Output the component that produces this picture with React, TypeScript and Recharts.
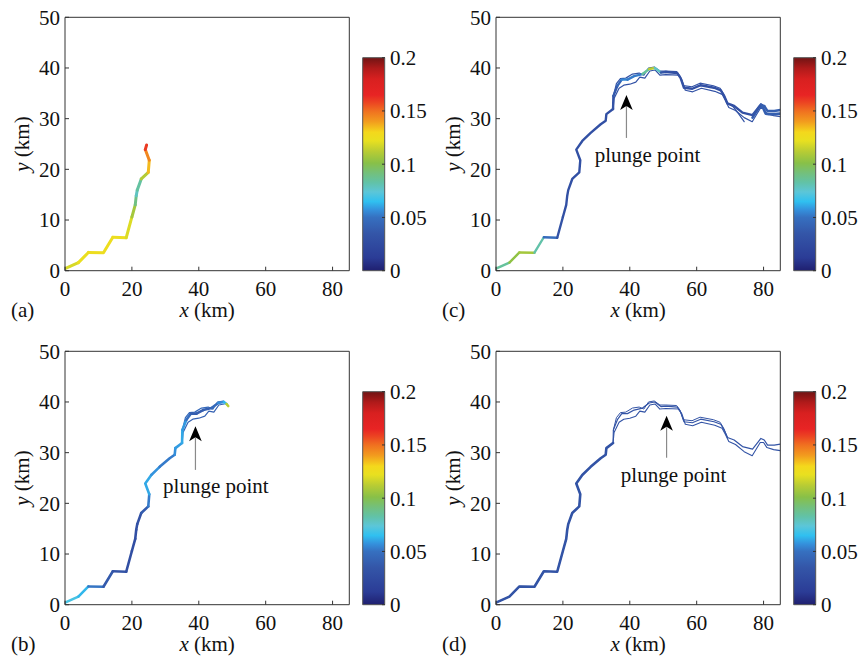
import React from 'react';
import { LineChart, Line, XAxis, YAxis, ReferenceLine, ReferenceDot, BarChart, Bar } from 'recharts';

// ---------- tick labels ----------
const X_TICKS = [0, 20, 40, 60, 80];
const Y_TICKS = [0, 10, 20, 30, 40, 50];
const CB_TICKS = [0, 0.05, 0.1, 0.15, 0.2];
const CB_LABELS = ['0', '0.05', '0.1', '0.15', '0.2'];
const PANEL_LETTERS = ['a', 'b', 'c', 'd'];

// ---------- trajectory data (km) ----------
const MAIN_X = [0, 4.0, 7.0, 11.5, 14.3, 18.3, 20.0, 21.0, 21.3, 21.6, 22.8, 24.9, 25.2, 24.0, 25.8, 28.3, 31.3, 32.8, 33.0, 35.0, 35.1, 36.3, 37.6, 39.3, 41.3, 43.8, 45.8, 47.5, 49.3, 50.8, 54.2, 55.2, 56.2, 58.7, 61.2, 65.2, 67.2, 68.2, 69.2, 71.2, 73.7, 76.7, 79.2, 80.2, 81.2, 83.2, 85.0];
const MAIN_Y = [0.4, 1.6, 3.6, 3.55, 6.6, 6.5, 10.6, 13.0, 14.8, 15.9, 18.1, 19.4, 21.8, 23.9, 25.6, 27.2, 28.9, 29.6, 30.9, 31.9, 34.5, 36.5, 37.7, 37.7, 38.4, 38.8, 39.8, 40.0, 39.1, 39.2, 39.0, 38.0, 36.1, 35.9, 36.6, 36.1, 35.6, 34.5, 33.0, 32.5, 31.2, 30.7, 32.8, 32.5, 31.5, 31.5, 31.7];

const LOW_X = [35.0, 35.3, 36.8, 38.2, 40.0, 41.8, 43.0, 44.5, 46.0, 47.6, 49.0, 50.8, 54.6, 55.6, 56.6, 58.8, 61.4, 65.4, 67.6, 68.6, 69.6, 71.6, 74.2, 76.6, 79.0, 80.0, 81.0, 83.0, 85.0];
const LOW_Y = [31.9, 34.0, 36.0, 36.6, 36.8, 37.2, 38.2, 38.0, 39.4, 39.6, 38.6, 38.7, 38.6, 37.6, 35.6, 35.3, 36.0, 35.4, 34.8, 33.6, 32.2, 31.6, 30.2, 29.4, 32.0, 32.0, 31.0, 30.6, 30.4];

const UP_X = [35.1, 36.0, 37.2, 38.8, 40.8, 42.8, 44.2, 45.6, 47.3, 49.0, 50.8, 54.0, 55.0, 56.0, 58.6, 61.0, 65.0, 67.0, 68.0, 69.2];
const UP_Y = [34.5, 36.9, 37.9, 38.0, 38.8, 39.0, 38.6, 40.0, 40.2, 39.4, 39.4, 39.3, 38.4, 36.5, 36.3, 37.0, 36.5, 36.0, 34.9, 33.0];

const DANGLE_X = [69.2, 70.8, 72.5, 74.2];
const DANGLE_Y = [33.0, 32.4, 31.0, 29.4];

const BAND_X = [76.7, 78.8, 79.8, 80.6, 81.6, 83.4, 85.0];
const BAND_Y = [30.2, 32.4, 32.2, 31.0, 30.9, 30.9, 31.0];

const A_TIP_X = [24.4];
const A_TIP_Y = [24.8];
const B_TIP_X = [48.3, 48.8];
const B_TIP_Y = [39.6, 39.2];

// ---------- colour values along the paths ----------
const VAL_A = [0.115, 0.122, 0.125, 0.125, 0.125, 0.124, 0.115, 0.1, 0.08, 0.076, 0.092, 0.13, 0.14, 0.15, 0.17];
const VAL_B = [0.075, 0.065, 0.062, 0.04, 0.035, 0.03, 0.028, 0.028, 0.03, 0.03, 0.032, 0.045, 0.06, 0.062, 0.06, 0.055, 0.05, 0.055, 0.058, 0.06, 0.062, 0.055, 0.042, 0.038, 0.04, 0.042, 0.05, 0.062, 0.065, 0.16];
const VAL_C = [0.075, 0.095, 0.11, 0.105, 0.06, 0.035, 0.03, 0.03, 0.03, 0.03, 0.03, 0.03, 0.03, 0.03, 0.03, 0.03, 0.03, 0.03, 0.03, 0.03, 0.035, 0.04, 0.05, 0.06, 0.045, 0.06, 0.11, 0.115, 0.04, 0.03, 0.03, 0.03, 0.03, 0.03, 0.03, 0.03, 0.03, 0.03, 0.03, 0.03, 0.03, 0.03, 0.038, 0.04, 0.04, 0.04, 0.04];
const VAL_B_LOW = 0.042;
const VAL_B_UP = 0.046;
const VAL_C_VAR = 0.032;
const VAL_C_BAND = 0.04;
const VAL_D = 0.033;

// ---------- plunge-point annotations (km) ----------
const ARROWS = {
  b: { x: 39.0, y0: 26.6, y1: 33.0, tip: 35.2, tx: 45.1, ty: 22.0 },
  c: { x: 39.0, y0: 26.2, y1: 32.5, tip: 34.65, tx: 45.3, ty: 21.4 },
  d: { x: 51.0, y0: 29.0, y1: 35.0, tip: 37.3, tx: 53.1, ty: 24.3 },
};

// ---------- styling ----------
const FONT = 'Liberation Serif, DejaVu Serif, serif';
const TXT = '#111';
const AX = '#333';
const FS = 21;

const JET_STOPS: [number, string][] = [
  [0, '#1f1f6f'], [0.012, '#2b3c96'], [0.035, '#3456a8'], [0.05, '#3670c0'], [0.057, '#3490dc'],
  [0.065, '#30c0f0'], [0.074, '#5cc6d8'], [0.083, '#62c2a6'], [0.092, '#74c07a'], [0.101, '#88c048'],
  [0.112, '#b8cc34'], [0.122, '#e8e020'], [0.13, '#f4d81c'], [0.14, '#f29c1e'], [0.15, '#f07020'],
  [0.158, '#ec4422'], [0.165, '#e82424'], [0.18, '#d82020'], [0.19, '#b01a1a'], [0.2, '#701414'],
];

function hexToRgb(h: string) {
  return [parseInt(h.slice(1, 3), 16), parseInt(h.slice(3, 5), 16), parseInt(h.slice(5, 7), 16)];
}
function jet(v: number): string {
  const c = Math.max(0, Math.min(0.2, v));
  for (let i = 0; i < JET_STOPS.length - 1; i++) {
    const [a, ca] = JET_STOPS[i];
    const [b, cb] = JET_STOPS[i + 1];
    if (c >= a && c <= b) {
      const t = b === a ? 0 : (c - a) / (b - a);
      const A = hexToRgb(ca);
      const B = hexToRgb(cb);
      const r = A.map((x, k) => Math.round(x + (B[k] - x) * t));
      return `rgb(${r[0]},${r[1]},${r[2]})`;
    }
  }
  return JET_STOPS[JET_STOPS.length - 1][1];
}

type Traj = { xs: number[]; ys: number[]; vals: number[] | number; width: number };

function buildSegments(t: Traj) {
  const out: { color: string; pts: { x: number; y: number }[] }[] = [];
  for (let i = 0; i < t.xs.length - 1; i++) {
    const v = typeof t.vals === 'number' ? t.vals : (t.vals[i] + t.vals[i + 1]) / 2;
    const color = jet(v);
    const last = out[out.length - 1];
    if (last && last.color === color) last.pts.push({ x: t.xs[i + 1], y: t.ys[i + 1] });
    else out.push({ color, pts: [{ x: t.xs[i], y: t.ys[i] }, { x: t.xs[i + 1], y: t.ys[i + 1] }] });
  }
  return out;
}

const PANELS: { letter: string; left: number; top: number; trajs: Traj[]; arrow?: any }[] = [
  {
    letter: PANEL_LETTERS[0], left: 0, top: 0,
    trajs: [
      { xs: [...MAIN_X.slice(0, 14), ...A_TIP_X], ys: [...MAIN_Y.slice(0, 14), ...A_TIP_Y], vals: VAL_A, width: 3 },
    ],
  },
  {
    letter: PANEL_LETTERS[1], left: 0, top: 334,
    trajs: [
      { xs: LOW_X.slice(0, 10), ys: LOW_Y.slice(0, 10), vals: VAL_B_LOW, width: 1.2 },
      { xs: UP_X.slice(0, 9), ys: UP_Y.slice(0, 9), vals: VAL_B_UP, width: 1.2 },
      { xs: [...MAIN_X.slice(0, 28), ...B_TIP_X], ys: [...MAIN_Y.slice(0, 28), ...B_TIP_Y], vals: VAL_B, width: 2.6 },
    ],
    arrow: ARROWS.b,
  },
  {
    letter: PANEL_LETTERS[2], left: 430.7, top: 0,
    trajs: [
      { xs: LOW_X, ys: LOW_Y, vals: VAL_C_VAR, width: 1.2 },
      { xs: UP_X, ys: UP_Y, vals: VAL_C_VAR, width: 1.2 },
      { xs: DANGLE_X, ys: DANGLE_Y, vals: VAL_C_VAR, width: 1.2 },
      { xs: BAND_X, ys: BAND_Y, vals: VAL_C_BAND, width: 2.6 },
      { xs: MAIN_X, ys: MAIN_Y, vals: VAL_C, width: 2.4 },
    ],
    arrow: ARROWS.c,
  },
  {
    letter: PANEL_LETTERS[3], left: 430.7, top: 334,
    trajs: [
      { xs: MAIN_X.slice(0, 20), ys: MAIN_Y.slice(0, 20), vals: VAL_D, width: 2.6 },
      { xs: LOW_X, ys: LOW_Y, vals: VAL_D, width: 1.1 },
      { xs: UP_X, ys: UP_Y, vals: VAL_D, width: 1.0 },
      { xs: MAIN_X, ys: MAIN_Y, vals: VAL_D, width: 1.2 },
    ],
    arrow: ARROWS.d,
  },
];

const tickStyle = { fontSize: FS, fontFamily: FONT, fill: TXT };

const makeXLabel = (letter: string) => (props: any) => {
  const vb = props.viewBox || { x: 65, y: 270.7, width: 284.3, height: 30 };
  const by = vb.y + 46.5;
  return (
    <g>
      <text x={vb.x - 54} y={by} fontFamily={FONT} fontSize={FS} fill={TXT}>({letter})</text>
      <text x={vb.x + vb.width / 2} y={by} textAnchor="middle" fontFamily={FONT} fontSize={FS} fill={TXT}>
        <tspan fontStyle="italic">x</tspan> (km)
      </text>
    </g>
  );
};

const yLabel = (props: any) => {
  const vb = props.viewBox || { x: 20, y: 17.3, width: 45, height: 253.4 };
  const x = vb.x + 9;
  const y = vb.y + vb.height / 2;
  return (
    <text x={x} y={y} transform={`rotate(-90, ${x}, ${y})`} textAnchor="middle" fontFamily={FONT} fontSize={FS} fill={TXT}>
      <tspan fontStyle="italic">y</tspan> (km)
    </text>
  );
};

const arrowHead = (props: any) => {
  const { cx, cy } = props;
  return <path d={`M${cx},${cy} L${cx + 6.3},${cy + 15} L${cx},${cy + 11} L${cx - 6.3},${cy + 15} Z`} fill="#000" />;
};
const plungeText = (props: any) => (
  <text x={props.cx} y={props.cy} textAnchor="middle" fontFamily={FONT} fontSize={FS} fill={TXT}>plunge point</text>
);

const CB_DATA = [{ k: 'cb', v: CB_TICKS[CB_TICKS.length - 1] }];

function ColorBar({ id }: { id: string }) {
  return (
    <BarChart width={90} height={250} data={CB_DATA} margin={{ top: 17.7, right: 1, bottom: 19.3, left: 21.7 }} barCategoryGap={0}>
      <defs>
        <linearGradient id={id} x1="0" y1="0" x2="0" y2="1">
          {JET_STOPS.slice().reverse().map(([v, c]) => (
            <stop key={v} offset={`${(1 - v / 0.2) * 100}%`} stopColor={c} />
          ))}
        </linearGradient>
      </defs>
      <XAxis dataKey="k" hide />
      <Bar yAxisId="r" dataKey="v" fill={`url(#${id})`} stroke="#555" strokeWidth={1} isAnimationActive={false} />
      <YAxis yAxisId="r" orientation="right" type="number" domain={[0, 0.2]} ticks={CB_TICKS} interval={0}
        width={44} tickSize={-3} tickMargin={8} axisLine={false} stroke={AX}
        tickFormatter={(v: number, i: number) => CB_LABELS[i]} tick={tickStyle} />
      <YAxis yAxisId="l" orientation="left" type="number" domain={[0, 0.2]} ticks={CB_TICKS} interval={0}
        width={1} tickSize={-3} tick={false} axisLine={false} stroke={AX} />
    </BarChart>
  );
}

function Panel({ p }: { p: (typeof PANELS)[number] }) {
  const segs = p.trajs.flatMap((t, ti) => buildSegments(t).map((s, si) => ({ ...s, key: `${ti}-${si}`, width: t.width })));
  const a = p.arrow;
  return (
    <div style={{ position: 'absolute', left: p.left, top: p.top, width: 430, height: 330 }}>
      <LineChart width={430} height={330} margin={{ top: 16.3, right: 79.7, bottom: 29.3, left: 20 }}>
        <XAxis xAxisId="x" dataKey="x" type="number" domain={[0, 85]} ticks={X_TICKS} interval={0} allowDataOverflow
          orientation="bottom" height={30} tickSize={-4} tickMargin={14} stroke={AX} tick={tickStyle}
          label={makeXLabel(p.letter)} />
        <XAxis xAxisId="xt" type="number" domain={[0, 85]} ticks={X_TICKS} interval={0} orientation="top"
          height={1} tick={false} tickSize={-4} stroke={AX} />
        <YAxis yAxisId="y" type="number" domain={[0, 50]} ticks={Y_TICKS} interval={0} allowDataOverflow width={45}
          tickSize={-4} tickMargin={9} stroke={AX} tick={tickStyle} label={yLabel} />
        <YAxis yAxisId="yr" orientation="right" type="number" domain={[0, 50]} ticks={Y_TICKS} interval={0}
          width={1} tick={false} tickSize={-4} stroke={AX} />
        {segs.map((s) => (
          <Line key={s.key} xAxisId="x" yAxisId="y" data={s.pts} dataKey="y" type="linear" stroke={s.color}
            strokeWidth={s.width} strokeLinecap="round" strokeLinejoin="round" dot={false} activeDot={false}
            isAnimationActive={false} />
        ))}
        {a && (
          <ReferenceLine xAxisId="x" yAxisId="y" segment={[{ x: a.x, y: a.y0 }, { x: a.x, y: a.y1 }]} stroke="#8a8a8a" strokeWidth={1.2} />
        )}
        {a && <ReferenceDot xAxisId="x" yAxisId="y" x={a.x} y={a.tip} r={3} shape={arrowHead} />}
        {a && <ReferenceDot xAxisId="x" yAxisId="y" x={a.tx} y={a.ty} r={1} shape={plungeText} />}
      </LineChart>
      <div style={{ position: 'absolute', left: 340, top: 40 }}>
        <ColorBar id={`jet-${p.letter}`} />
      </div>
    </div>
  );
}

export default function App() {
  return (
    <div style={{ position: 'absolute', left: 0, top: 0, width: 859, height: 660, background: '#fff', overflow: 'hidden', fontFamily: FONT }}>
      {PANELS.map((p) => (
        <Panel key={p.letter} p={p} />
      ))}
    </div>
  );
}
